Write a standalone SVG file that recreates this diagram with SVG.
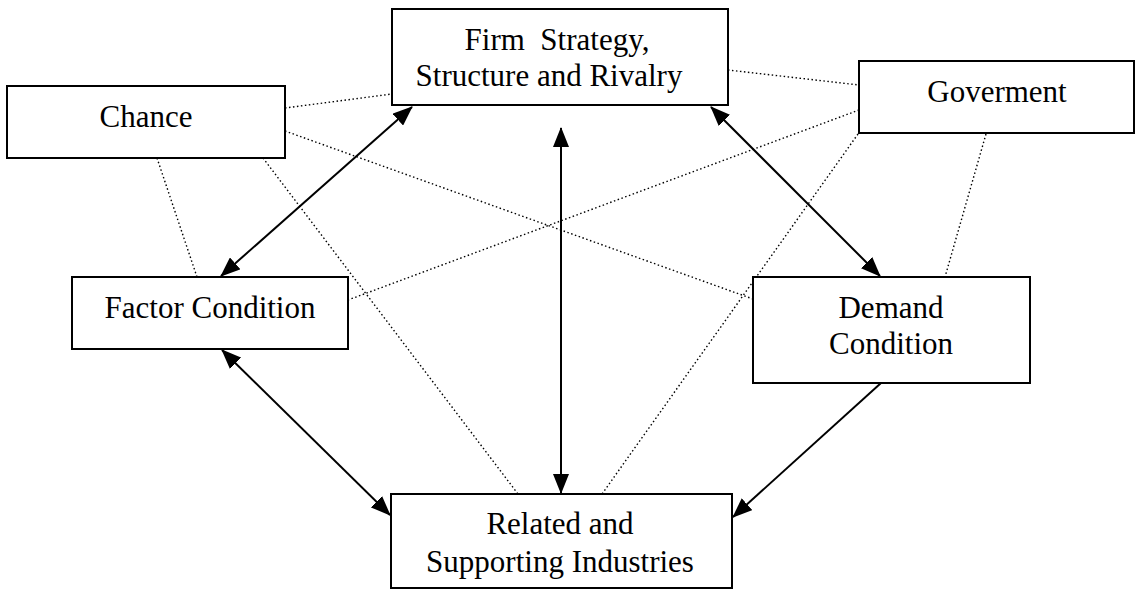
<svg xmlns="http://www.w3.org/2000/svg" width="1135" height="590" viewBox="0 0 1135 590">
<style>
.box{fill:#fff;stroke:#000;stroke-width:2}
.t{font-family:"Liberation Serif","Times New Roman","DejaVu Serif",serif;font-size:31px;fill:#000;text-anchor:middle}
.dot{stroke:#000;stroke-width:1.4;stroke-dasharray:1.5 2.5;fill:none}
.arr{stroke:#000;stroke-width:2;fill:none}
</style>
<defs>
<marker id="ah" markerUnits="userSpaceOnUse" markerWidth="20" markerHeight="16" refX="19" refY="8" orient="auto-start-reverse">
<path d="M0,0 L20,8 L0,16 Z" fill="#000"/>
</marker>
</defs>
<rect width="1135" height="590" fill="#fff"/>
<g id="connectors">
<line class="dot" x1="285" y1="108" x2="392" y2="94"/>
<line class="dot" x1="285" y1="131" x2="753" y2="299"/>
<line class="dot" x1="157" y1="158" x2="197" y2="277"/>
<line class="dot" x1="263" y1="158" x2="518" y2="494"/>
<line class="dot" x1="728" y1="70" x2="859" y2="85"/>
<line class="dot" x1="859" y1="110" x2="348" y2="300"/>
<line class="dot" x1="858" y1="134" x2="602" y2="494"/>
<line class="dot" x1="986" y1="134" x2="945" y2="277"/>
<line class="arr" x1="412" y1="107" x2="221" y2="276" marker-start="url(#ah)" marker-end="url(#ah)"/>
<line class="arr" x1="711" y1="107" x2="880" y2="276" marker-start="url(#ah)" marker-end="url(#ah)"/>
<line class="arr" x1="561" y1="128" x2="561" y2="493" marker-start="url(#ah)" marker-end="url(#ah)"/>
<line class="arr" x1="222" y1="350" x2="390" y2="515" marker-start="url(#ah)" marker-end="url(#ah)"/>
<line class="arr" x1="881" y1="383" x2="733" y2="517" marker-end="url(#ah)"/>
</g>
<g id="firm">
<rect class="box" x="392" y="9" width="336" height="96"/>
<text class="t" x="557" y="50" xml:space="preserve">Firm  Strategy,</text>
<text class="t" x="549" y="86">Structure and Rivalry</text>
</g>
<g id="chance">
<rect class="box" x="7" y="86" width="278" height="72"/>
<text class="t" x="146" y="127">Chance</text>
</g>
<g id="goverment">
<rect class="box" x="859" y="61" width="275" height="72"/>
<text class="t" x="997" y="102">Goverment</text>
</g>
<g id="factor">
<rect class="box" x="72" y="277" width="276" height="72"/>
<text class="t" x="210" y="318">Factor Condition</text>
</g>
<g id="demand">
<rect class="box" x="753" y="277" width="277" height="106"/>
<text class="t" x="891" y="318">Demand</text>
<text class="t" x="891" y="354">Condition</text>
</g>
<g id="related">
<rect class="box" x="391" y="494" width="341" height="94"/>
<text class="t" x="560" y="534">Related and</text>
<text class="t" x="560" y="572">Supporting Industries</text>
</g>
</svg>
